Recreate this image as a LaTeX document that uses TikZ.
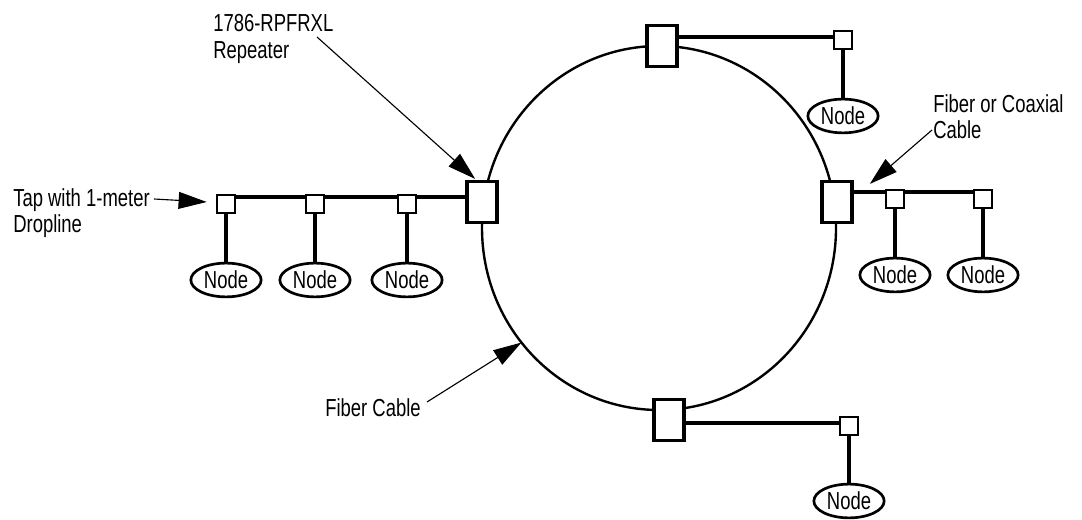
\documentclass[tikz,border=0pt]{standalone}
\usepackage{fontspec}
\setmainfont{Liberation Sans}[FakeStretch=0.75]
\usepackage{tikz}
\usetikzlibrary{shapes.geometric, arrows.meta, calc}
\newcommand{\lblfont}{\fontsize{17.5}{19}\selectfont}

\tikzset{
  repeater/.style={draw, line width=2.4pt, fill=white, minimum width=21.5pt, minimum height=29pt, inner sep=0pt},
  tap/.style={draw, line width=1.8pt, fill=white, minimum size=12.8pt, inner sep=0pt},
  station/.style={ellipse, draw, line width=1.9pt, fill=white, minimum width=50pt, minimum height=24pt, inner sep=0pt, font=\lblfont},
  cable/.style={line width=2.2pt},
  ring/.style={line width=1.7pt},
  callout/.style={-{Triangle[length=20pt,width=12pt]}, line width=0.8pt},
  tag/.style={inner sep=0pt, align=left, font=\lblfont}
}

\begin{document}
\begin{tikzpicture}[x=0.025cm, y=0.025cm]
    \useasboundingbox (0,0) rectangle (1082,519);
    \coordinate (ringC) at (659,291);
    \draw[ring] (ringC) ellipse (177 and 182);

    \node[repeater] (repL) at (482,317) {};
    \node[repeater] (repT) at (662,473) {};
    \node[repeater] (repR) at (837,317) {};
    \node[repeater] (repB) at (669,99) {};

    \node[tap] (tapA) at (226,315) {};
    \node[tap] (tapB) at (315,315) {};
    \node[tap] (tapC) at (407,315) {};
    \node[tap] (tapD) at (895,320) {};
    \node[tap] (tapE) at (983,320) {};
    \node[tap] (tapF) at (843,479) {};
    \node[tap] (tapG) at (849,93) {};

    \node[station] (nodeA) at (226,239) {Node};
    \node[station] (nodeB) at (315,239) {Node};
    \node[station] (nodeC) at (407,239) {Node};
    \node[station] (nodeD) at (895,244) {Node};
    \node[station] (nodeE) at (983,244) {Node};
    \node[station] (nodeF) at (843,403) {Node};
    \node[station] (nodeG) at (849,18) {Node};

    \coordinate (busL) at (0,322);
    \coordinate (busR) at (0,327);
    \coordinate (busT) at (0,482);
    \coordinate (busB) at (0,96);
    \draw[cable] (repL.west |- busL) -- (tapC.east |- busL);
    \draw[cable] (tapC.west |- busL) -- (tapB.east |- busL);
    \draw[cable] (tapB.west |- busL) -- (tapA.east |- busL);
    \draw[cable] (repR.east |- busR) -- (tapD.west |- busR);
    \draw[cable] (tapD.east |- busR) -- (tapE.west |- busR);
    \draw[cable] (repT.east |- busT) -- (tapF.west |- busT);
    \draw[cable] (repB.east |- busB) -- (tapG.west |- busB);
    \foreach \t/\n in {tapA/nodeA, tapB/nodeB, tapC/nodeC, tapD/nodeD, tapE/nodeE, tapF/nodeF, tapG/nodeG}
        \draw[cable] (\t) -- (\n);

    \node[tag, anchor=north west] (lblRep) at (213,505) {1786-RPFRXL\\Repeater};
    \node[tag, anchor=north west] (lblTap) at (13,331) {Tap with 1-meter\\Dropline};
    \node[tag, anchor=base west] (lblFib) at (325,103) {Fiber Cable};
    \node[tag, anchor=north west] (lblCoax) at (933,425) {Fiber or Coaxial\\Cable};

    \coordinate (repTail) at (317,482);
    \coordinate (tapTail) at (154,320);
    \coordinate (fibTail) at (427,117);
    \coordinate (coaxTail) at (932,389);
    \path (ringC) ++(219:177 and 182) coordinate (fibTip);
    \draw[callout] (repTail) -- ($(repL.north west)+(10,1)$);
    \draw[callout] (tapTail) -- ($(tapA.west)+(-9,2)$);
    \draw[callout] (fibTail) -- (fibTip);
    \draw[callout] (coaxTail) -- ($(repR.north east)+(16,-4)$);
\end{tikzpicture}
\end{document}
